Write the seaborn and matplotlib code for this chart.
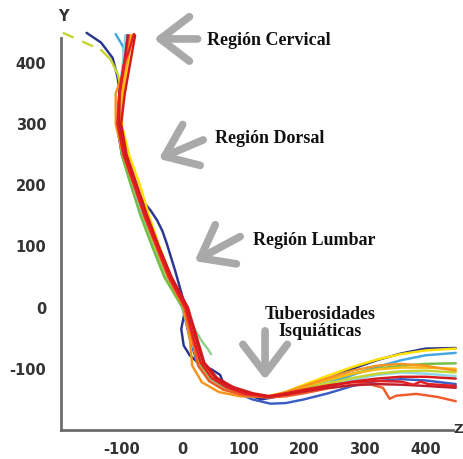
import numpy as np
import pandas as pd
import seaborn as sns
import matplotlib.pyplot as plt

sns.set_style('white')
plt.rcParams['font.family'] = ['DejaVu Sans']

# ---------------- data ----------------
curve_names = ['navy', 'blue', 'lightblue', 'cyan', 'palegreen', 'green', 'yellowgreen',
               'yellow', 'gold', 'orange', 'orangered', 'darkred', 'red', 'red2']
curve_colors = ['#2b3590', '#3b5cc4', '#45a6e0', '#8ed6e6', '#8fd08c', '#72bf44', '#c6d530',
                '#ffe100', '#fdb913', '#f7941d', '#f15a29', '#be1e2d', '#e31e24', '#d7191c']

curve_x = [
    [-158, -134, -115, -107, -103, -108, -99, -82, -66, -52, -42, -33, -26, -12, 5, -2, 2, 12, 28, 48, 62, 66, 88, 130, 170, 200, 240, 280, 320, 360, 400, 450],
    [-92, -97, -104, -108, -100, -84, -67, -48, -27, 0, 12, 24, 46, 80, 115, 145, 170, 200, 240, 280, 320, 360, 400, 450],
    [-110, -97, -96, -102, -106, -98, -82, -66, -47, -27, 1, 14, 26, 44, 68, 100, 140, 170, 200, 240, 280, 320, 360, 400, 450],
    [-94, -98, -104, -106, -99, -83, -66, -47, -27, 0, 14, 26, 44, 68, 100, 140, 170, 200, 240, 280, 320, 360, 400, 450],
    [-66, -46, -26, 2, 20, 32, 42, 47],
    [-90, -94, -100, -106, -100, -85, -69, -50, -30, 0, 16, 28, 46, 70, 100, 140, 170, 200, 240, 280, 320, 360, 400, 450],
    [-134, -118, -106, -100, -103, -94, -78, -62, -44, -24, 4, 18, 30, 48, 72, 104, 140, 170, 200, 240, 280, 320, 360, 400, 450],
    [-84, -90, -98, -100, -88, -70, -55, -38, -19, 6, 20, 33, 52, 75, 106, 140, 170, 200, 240, 280, 320, 360, 400, 450],
    [-86, -92, -99, -103, -94, -77, -60, -41, -21, 4, 16, 26, 44, 66, 98, 140, 170, 200, 240, 280, 320, 360, 400, 450],
    [-82, -92, -110, -110, -98, -80, -63, -44, -24, 2, 12, 16, 32, 60, 96, 140, 170, 200, 240, 280, 320, 360, 400, 450],
    [-88, -95, -103, -106, -97, -80, -63, -43, -23, 3, 16, 26, 44, 68, 100, 140, 170, 200, 240, 280, 308, 330, 341, 352, 385, 420, 450],
    [-90, -96, -104, -104, -94, -77, -60, -40, -19, 8, 22, 34, 54, 78, 108, 140, 170, 200, 240, 280, 320, 360, 400, 450],
    [-80, -88, -96, -104, -107, -97, -79, -62, -42, -22, 5, 18, 30, 48, 72, 104, 140, 170, 200, 240, 280, 320, 360, 380, 392, 405, 450],
    [-78, -86, -95, -101, -92, -75, -58, -39, -18, 9, 24, 36, 57, 84, 116, 145, 175, 200, 240, 280, 320, 360, 400, 450],
]
curve_y = [
    [449, 433, 408, 377, 350, 300, 250, 200, 175, 158, 143, 125, 105, 60, 0, -35, -62, -78, -92, -101, -110, -120, -136, -150, -143, -132, -116, -100, -86, -75, -67, -66],
    [445, 400, 350, 300, 250, 200, 150, 100, 50, 0, -50, -90, -115, -135, -150, -157, -156, -150, -140, -128, -120, -117, -119, -125],
    [447, 425, 400, 350, 300, 250, 200, 150, 100, 50, 0, -50, -90, -115, -130, -140, -145, -142, -136, -124, -110, -97, -86, -78, -74],
    [445, 400, 350, 300, 250, 200, 150, 100, 50, 0, -50, -90, -115, -130, -140, -146, -142, -137, -128, -118, -110, -106, -108, -112],
    [150, 100, 50, 0, -35, -55, -68, -76],
    [445, 400, 350, 300, 250, 200, 150, 100, 50, 0, -50, -90, -115, -130, -140, -146, -140, -131, -119, -108, -100, -95, -92, -91],
    [421, 405, 380, 350, 300, 250, 200, 150, 100, 50, 0, -50, -90, -115, -130, -140, -145, -141, -134, -124, -115, -108, -104, -103, -106],
    [445, 400, 350, 300, 250, 200, 150, 100, 50, 0, -50, -90, -115, -130, -140, -145, -138, -126, -111, -97, -85, -76, -70, -67],
    [445, 400, 350, 300, 250, 200, 150, 100, 50, 0, -50, -95, -120, -134, -142, -146, -140, -130, -118, -108, -101, -98, -98, -100],
    [445, 400, 350, 300, 250, 200, 150, 100, 50, 0, -50, -95, -122, -138, -145, -146, -138, -128, -115, -103, -95, -92, -95, -103],
    [445, 400, 350, 300, 250, 200, 150, 100, 50, 0, -50, -95, -120, -134, -143, -147, -145, -140, -132, -126, -125, -131, -149, -144, -141, -146, -153],
    [445, 400, 350, 300, 250, 200, 150, 100, 50, 0, -50, -90, -115, -130, -140, -146, -142, -137, -131, -127, -125, -126, -128, -131],
    [447, 420, 400, 350, 300, 250, 200, 150, 100, 50, 0, -50, -90, -115, -130, -141, -145, -140, -134, -127, -122, -120, -121, -126, -121, -125, -128],
    [445, 400, 350, 300, 250, 200, 150, 100, 50, 0, -50, -90, -115, -130, -140, -145, -141, -136, -128, -121, -116, -113, -113, -116],
]
dash_x = [-197, -143]
dash_y = [449, 425]

x_ticks = [-100, 0, 100, 200, 300, 400]
y_ticks = [-100, 0, 100, 200, 300, 400]

labels_text = ['Región Cervical', 'Región Dorsal', 'Región Lumbar', 'Tuberosidades\nIsquiáticas']

# ---------------- build frame ----------------
rows = []
for name, xs, ys in zip(curve_names, curve_x, curve_y):
    for i, (xv, yv) in enumerate(zip(xs, ys)):
        rows.append((name, i, xv, yv))
df = pd.DataFrame(rows, columns=['curve', 'i', 'x', 'y'])

fig = plt.figure(figsize=(4.63, 4.59), dpi=100)
ax = fig.add_axes([0.1318, 0.0632, 0.846, 0.8693])

sns.lineplot(x=dash_x, y=dash_y, color='#c6d530', lw=1.7, linestyle=(0, (5, 4)),
             sort=False, ax=ax)
sns.lineplot(data=df, x='x', y='y', hue='curve', units='curve', estimator=None,
             sort=False, hue_order=curve_names,
             palette=dict(zip(curve_names, curve_colors)), legend=False,
             lw=1.75, ax=ax)
for ln in ax.lines:
    ln.set_clip_on(False)
    ln.set_solid_joinstyle('round')

ax.set_xlim(-200, 445)
ax.set_ylim(-200, 452)
for s in ['top', 'right']:
    ax.spines[s].set_visible(False)
for s in ['left', 'bottom']:
    ax.spines[s].set_color('#6d6d6d')
    ax.spines[s].set_linewidth(2)
ax.spines['left'].set_bounds(-200, 440)
ax.spines['bottom'].set_bounds(-200, 445)
ax.set_xticks(x_ticks)
ax.set_yticks(y_ticks)
ax.set_xticklabels([str(t) for t in x_ticks])
ax.set_yticklabels([str(t) for t in y_ticks])
ax.tick_params(direction='inout', length=11, width=1.8, color='#6d6d6d',
               labelsize=10.5, labelcolor='#333333')
ax.tick_params(axis='x', pad=3)
ax.tick_params(axis='y', pad=5)
for lbl in ax.get_xticklabels() + ax.get_yticklabels():
    lbl.set_fontweight('bold')
ax.set_xlabel('')
ax.set_ylabel('')

ax.text(-196, 476, 'Y', ha='center', va='center', fontsize=10.5, fontweight='bold',
        color='#333333', clip_on=False)
ax.text(446, -200, 'Z', ha='left', va='center', fontsize=9.5, fontweight='bold',
        color='#333333', clip_on=False)

serif = dict(family='Liberation Serif', fontweight='bold', fontsize=13, color='#111111')
ax.text(41, 436, labels_text[0], ha='left', va='center', **serif)
ax.text(54, 277, labels_text[1], ha='left', va='center', **serif)
ax.text(116, 110, labels_text[2], ha='left', va='center', **serif)
ax.text(226, -25, labels_text[3], ha='center', va='center', linespacing=1.0, **serif)

arrow_kw = dict(arrowstyle='->,head_length=1.05,head_width=0.8', lw=5.5,
                color='#a9a9a9', mutation_scale=20, shrinkA=0, shrinkB=0)
for tail, head in [((25, 439), (-47, 439)), ((34, 274), (-39, 243)),
                   ((95, 116), (20, 76)), ((136, -38), (136, -118))]:
    ax.annotate('', xy=head, xytext=tail, arrowprops=arrow_kw, annotation_clip=False)

fig.savefig('out.png', dpi=100)
